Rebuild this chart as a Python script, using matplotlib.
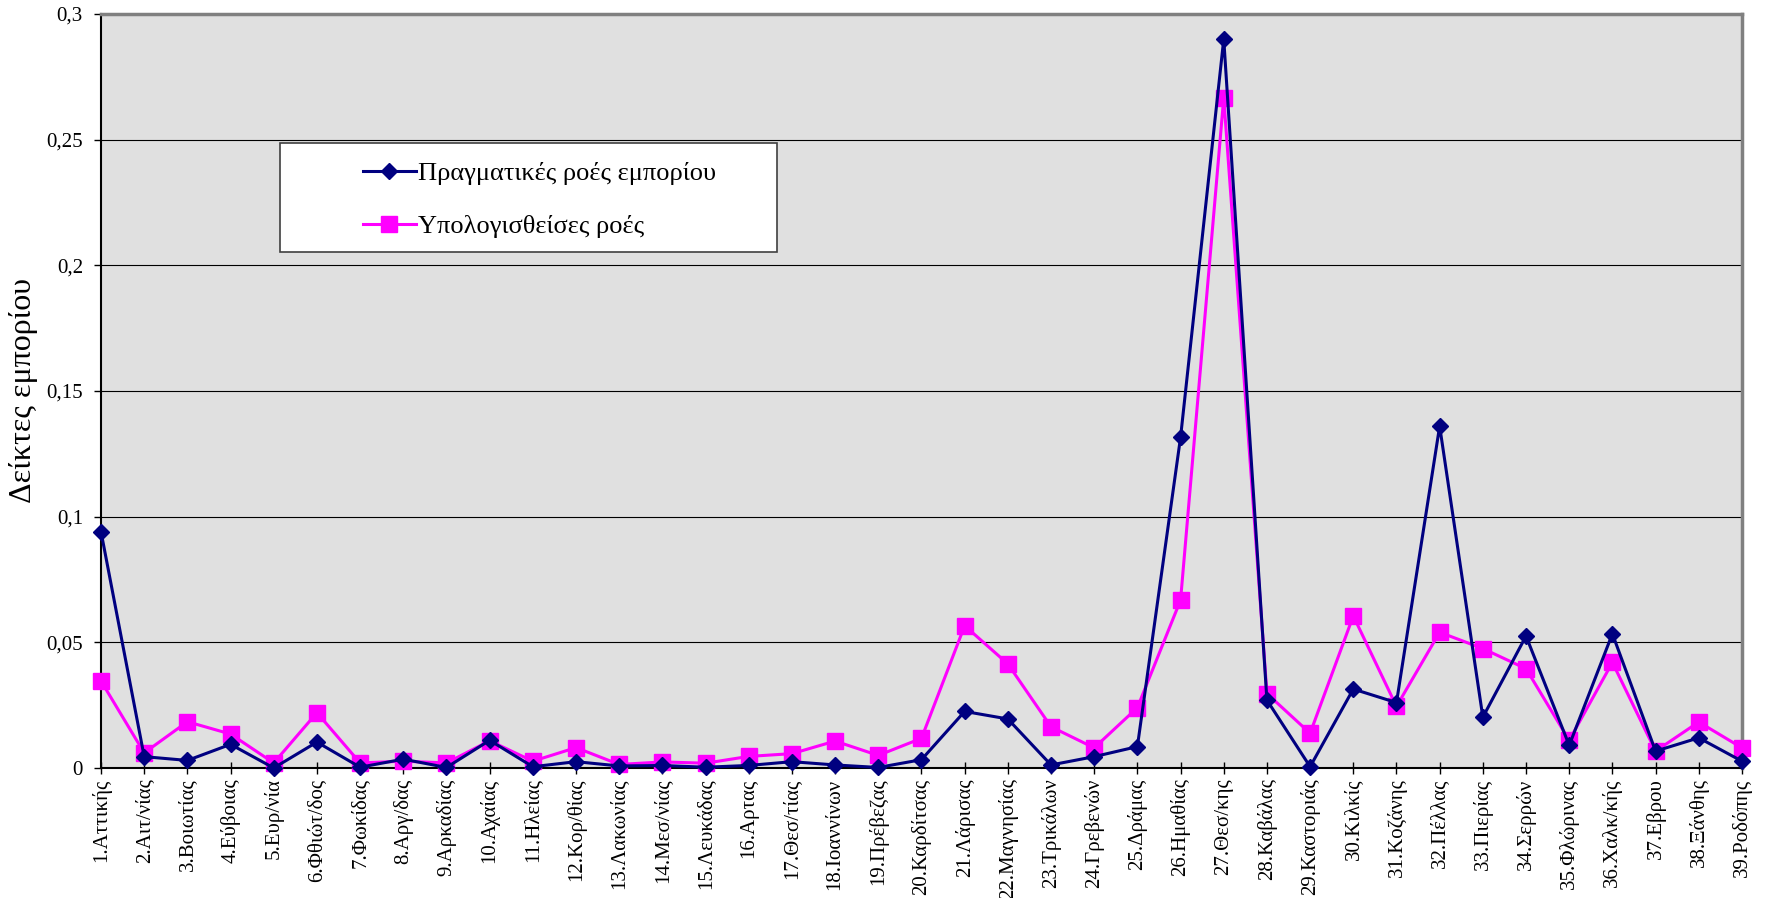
import matplotlib.pyplot as plt
from matplotlib.patches import Rectangle
from matplotlib.ticker import FuncFormatter, MultipleLocator

plt.rcParams["font.family"] = ["Liberation Serif", "DejaVu Serif"]

# Νομοί (ετικέτες άξονα x)
nomoi = ["1.Αττικής", "2.Αιτ/νίας", "3.Βοιωτίας", "4.Εύβοιας", "5.Ευρ/νία",
         "6.Φθιώτ/δος", "7.Φωκίδας", "8.Αργ/δας", "9.Αρκαδίας", "10.Αχαίας",
         "11.Ηλείας", "12.Κορ/θίας", "13.Λακωνίας", "14.Μεσ/νίας", "15.Λευκάδας",
         "16.Αρτας", "17.Θεσ/τίας", "18.Ιοαννίνων", "19.Πρέβεζας", "20.Καρδίτσας",
         "21.Λάρισας", "22.Μαγνησίας", "23.Τρικάλων", "24.Γρεβενών", "25.Δράμας",
         "26.Ημαθίας", "27.Θεσ/κης", "28.Καβάλας", "29.Καστοριάς", "30.Κιλκίς",
         "31.Κοζάνης", "32.Πέλλας", "33.Πιερίας", "34.Σερρών", "35.Φλώρινας",
         "36.Χαλκ/κής", "37.Εβρου", "38.Ξάνθης", "39.Ροδόπης"]

# Πραγματικές ροές εμπορίου
pragmatikes = [0.094, 0.0045, 0.003, 0.0094, 0.0, 0.0103, 0.0003, 0.0035, 0.0002, 0.011,
               0.0005, 0.0025, 0.0008, 0.001, 0.0003, 0.001, 0.0025, 0.0012, 0.0002, 0.0033,
               0.0225, 0.0195, 0.0012, 0.0045, 0.0085, 0.1316, 0.290, 0.027, 0.0005, 0.0314,
               0.026, 0.136, 0.0202, 0.0525, 0.009, 0.0534, 0.0067, 0.012, 0.0027]

# Υπολογισθείσες ροές
ypologismenes = [0.0346, 0.006, 0.0184, 0.0135, 0.002, 0.022, 0.002, 0.0027, 0.002, 0.0108,
                 0.0027, 0.0081, 0.0014, 0.0024, 0.0019, 0.0046, 0.0057, 0.0107, 0.005, 0.0118,
                 0.0566, 0.0414, 0.0164, 0.008, 0.024, 0.0668, 0.2667, 0.0296, 0.0138, 0.0605,
                 0.0245, 0.054, 0.0475, 0.0395, 0.011, 0.042, 0.0067, 0.0183, 0.008]

x = list(range(1, len(nomoi) + 1))

fig = plt.figure(figsize=(17.69, 8.98), dpi=100)
ax = fig.add_axes([0.0571, 0.1448, 0.9276, 0.8396])
ax.set_facecolor("#E0E0E0")

l1, = ax.plot(x, pragmatikes, color="#000080", lw=2.2, marker="D", ms=8,
              label="Πραγματικές ροές εμπορίου", clip_on=False, zorder=4)
l2, = ax.plot(x, ypologismenes, color="#FF00FF", lw=2.2, marker="s", ms=11,
              label="Υπολογισθείσες ροές", clip_on=False, zorder=3)

ax.set_xlim(1, 39)
ax.set_ylim(0, 0.3)
ax.yaxis.set_major_locator(MultipleLocator(0.05))
ax.yaxis.set_major_formatter(FuncFormatter(lambda v, p: ("%g" % round(v, 2)).replace(".", ",")))
ax.grid(axis="y", color="black", lw=0.8)
ax.set_axisbelow(True)

ax.set_xticks(x)
ax.set_xticklabels(nomoi, rotation=90, fontsize=15)
ax.tick_params(axis="x", direction="inout", length=9, width=1, pad=3)
ax.tick_params(axis="y", direction="out", length=5, width=1, pad=8, labelsize=15)

for s in ["left", "bottom"]:
    ax.spines[s].set_color("black")
    ax.spines[s].set_linewidth(1.5)
for s in ["top", "right"]:
    ax.spines[s].set_color("#808080")
    ax.spines[s].set_linewidth(2.5)

ax.set_ylabel("Δείκτες εμπορίου", fontsize=23, labelpad=6)

# Πλαίσιο υπομνήματος
ax.add_patch(Rectangle((0.109, 0.684), 0.303, 0.145, transform=ax.transAxes,
                       facecolor="white", edgecolor="#404040", lw=1.2, zorder=5))
ax.legend(handles=[l1, l2], loc="upper left", bbox_to_anchor=(0.1595, 0.804),
          frameon=False, fontsize=19, handlelength=2.0, handletextpad=0.1,
          labelspacing=1.1, borderpad=0, borderaxespad=0).set_zorder(6)

plt.savefig("out.png", dpi=100)
plt.close()
